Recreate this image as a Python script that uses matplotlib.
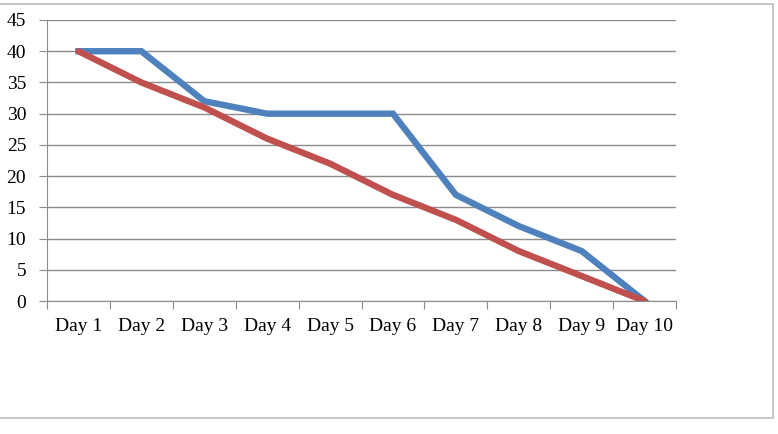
import matplotlib
matplotlib.use("Agg")
import matplotlib.pyplot as plt
from matplotlib.patches import Rectangle
import numpy as np

days = ["Day 1", "Day 2", "Day 3", "Day 4", "Day 5",
        "Day 6", "Day 7", "Day 8", "Day 9", "Day 10"]
actual = [40, 40, 32, 30, 30, 30, 17, 12, 8, 0]
ideal = [40, 35, 31, 26, 22, 17, 13, 8, 4, 0]

plt.rcParams["font.family"] = ["Liberation Serif", "DejaVu Serif"]

fig = plt.figure(figsize=(7.78, 4.34), dpi=100)
ax = fig.add_axes([47 / 778, 133 / 434, 629 / 778, 281 / 434])

x = np.arange(len(days))
ax.plot(x, actual, color="#4F81BD", lw=4.6, solid_joinstyle="miter", zorder=3)
ax.plot(x, ideal, color="#C0504D", lw=4.6, solid_capstyle="round", zorder=4)

ax.set_xlim(-0.5, len(days) - 0.5)
ax.set_ylim(0, 45)
ax.set_yticks(range(0, 46, 5))
ax.yaxis.grid(True, color="#8C8C8C", lw=1)
ax.set_axisbelow(True)

# category boundaries get the ticks, labels sit in the middle
ax.set_xticks(np.arange(-0.5, len(days), 1))
ax.set_xticklabels([])
ax.set_xticks(x, minor=True)
ax.set_xticklabels(days, minor=True)
ax.tick_params(axis="x", which="major", length=6, color="#8C8C8C", direction="out")
ax.tick_params(axis="x", which="minor", length=0, pad=12, labelsize=14)
ax.tick_params(axis="y", length=6, color="#8C8C8C", pad=9, labelsize=14)

for s in ["top", "right"]:
    ax.spines[s].set_visible(False)
ax.spines["left"].set_color("#8C8C8C")
ax.spines["bottom"].set_color("#8C8C8C")

# outer chart frame
fig.patches.append(Rectangle((-2 / 778, 16 / 434), 775 / 778, 414 / 434,
                             transform=fig.transFigure, fill=False,
                             edgecolor="#BDBDBD", lw=1.2))

fig.savefig("out.png", dpi=100)
